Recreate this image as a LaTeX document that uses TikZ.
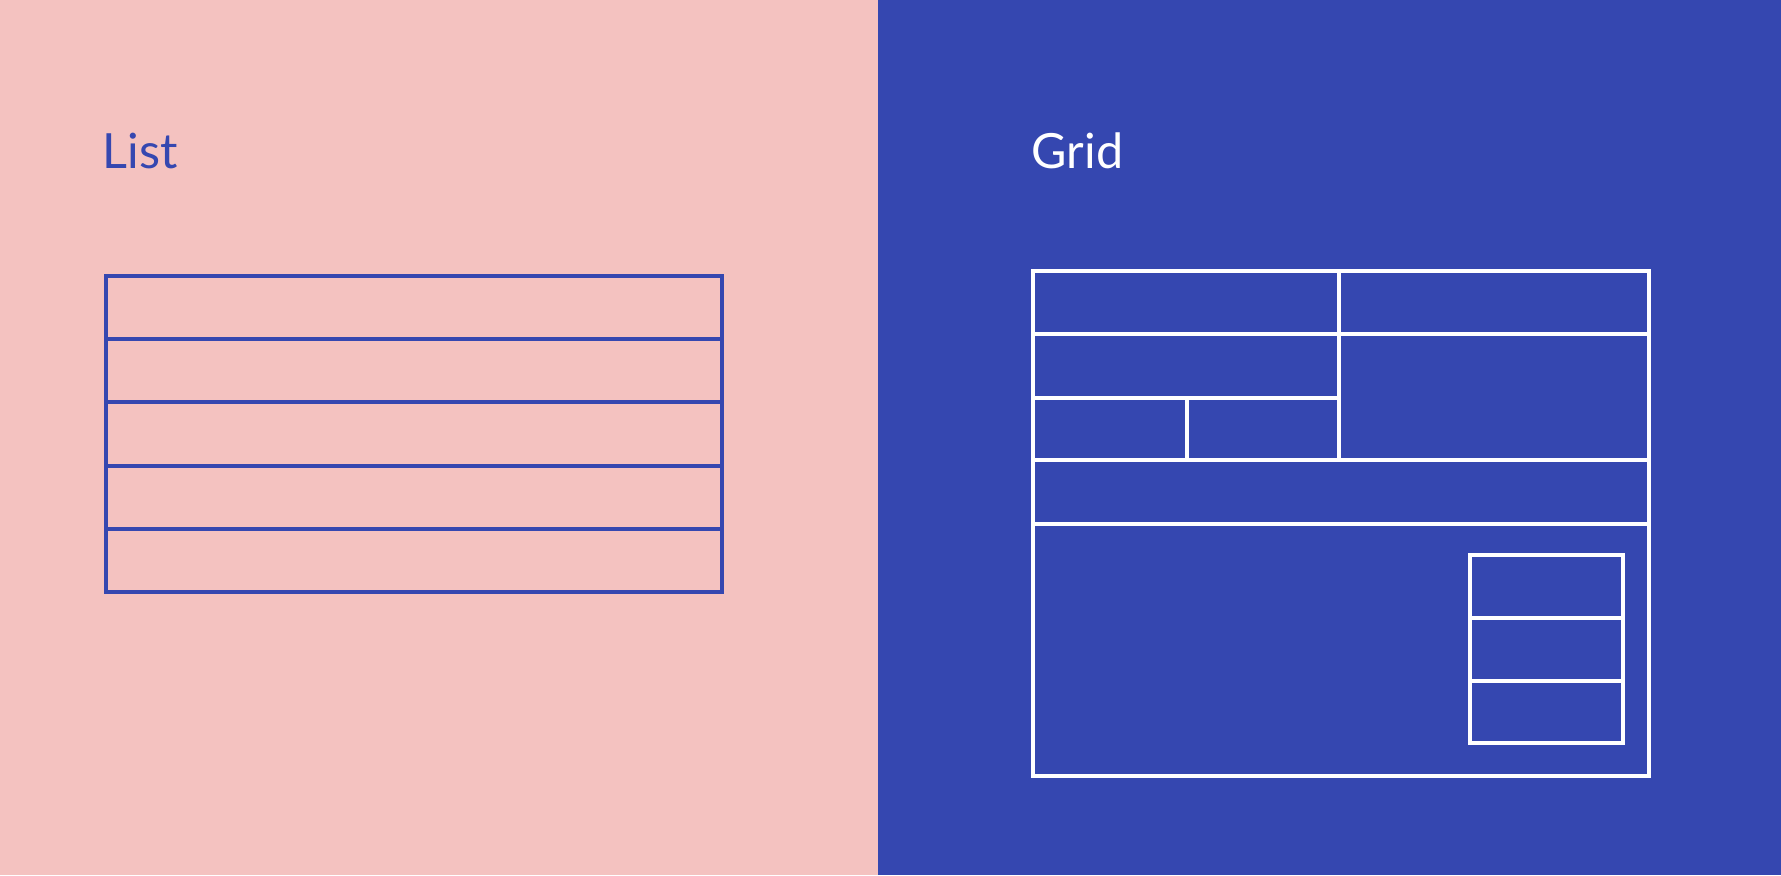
\documentclass[tikz,border=0pt]{standalone}
\usepackage{fontspec}
\setmainfont{Lato}
\begin{document}
\begin{tikzpicture}[x={(0.01cm,0)},y={(0,-0.01cm)},line width=1pt]

\definecolor{listpink}{RGB}{244,194,192}
\definecolor{gridblue}{RGB}{53,71,176}
\fill[color=listpink] (0,0)   rectangle (878,875);
\fill[color=gridblue] (878,0) rectangle (1781,875);

\node[color=gridblue,anchor=base west,inner sep=0pt] (listtitle) at (101,168) {\fontsize{13.8}{16}\selectfont List};
\node[color=white,anchor=base west,inner sep=0pt]    (gridtitle) at (1030,168) {\fontsize{13.8}{16}\selectfont Grid};

% list
\draw[color=gridblue] (106,276) rectangle (722,592);
\foreach \y in {339,402,466,529}{
	\draw[color=gridblue] (106,\y)--(722,\y);
}

% grid
\draw[color=white] (1033,271) rectangle (1649,776);
\draw[color=white] (1033,334)--(1649,334);
\draw[color=white] (1033,398)--(1339,398);
\draw[color=white] (1033,460)--(1649,460);
\draw[color=white] (1033,524)--(1649,524);
\draw[color=white] (1339,271)--(1339,460);
\draw[color=white] (1187,398)--(1187,460);

\draw[color=white] (1470,555) rectangle (1623,743);
\draw[color=white] (1470,618)--(1623,618);
\draw[color=white] (1470,681)--(1623,681);

\end{tikzpicture}
\end{document}
